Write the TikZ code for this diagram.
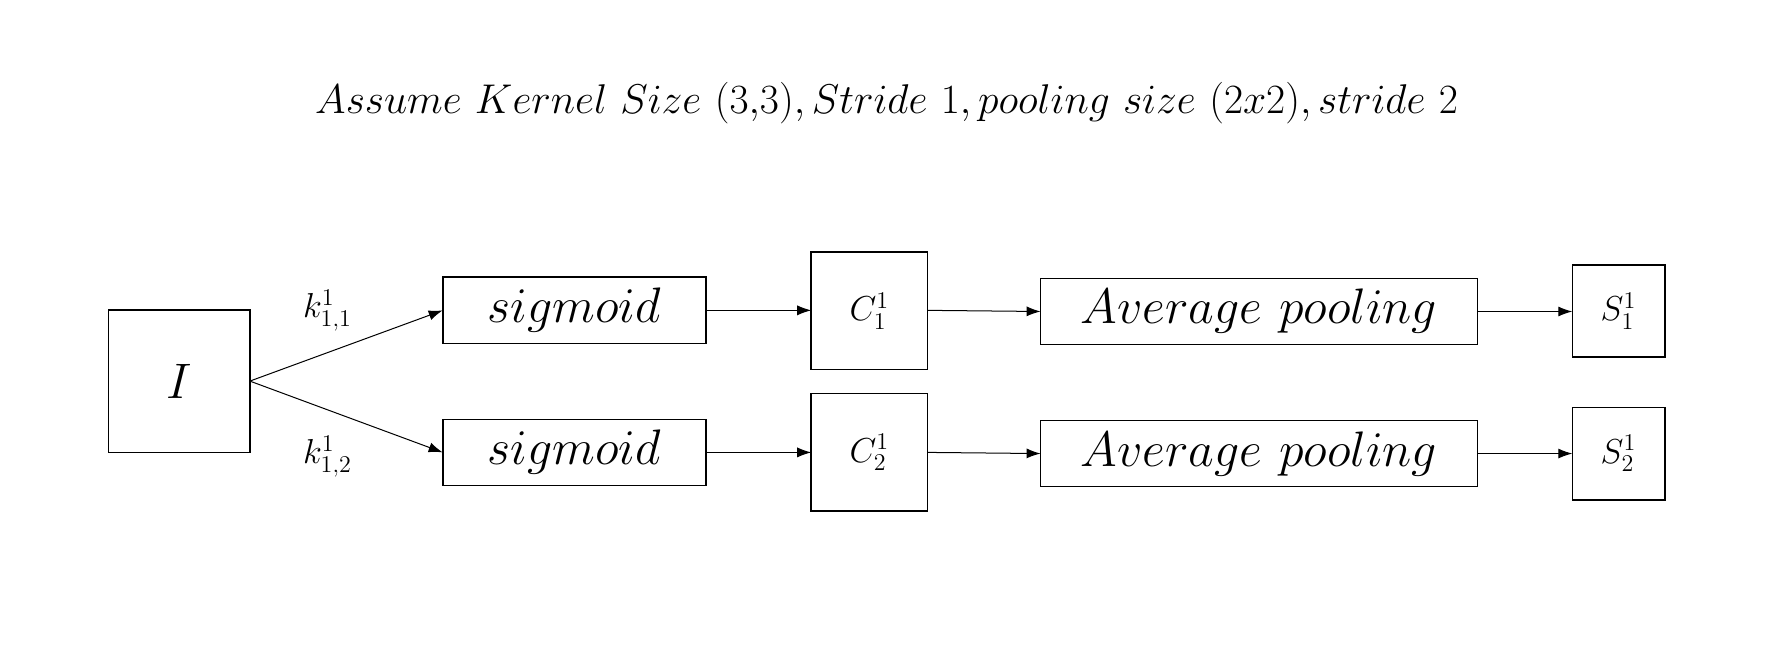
\documentclass[tikz,border=0pt]{standalone}
\usetikzlibrary{arrows.meta}
\begin{document}
\begin{tikzpicture}[x=0.02cm,y=-0.02cm,
 box/.style={draw,line width=0.8pt,inner sep=0pt,outer sep=0pt},
 arr/.style={-{Latex[length=7pt,width=5pt]},line width=0.5pt}]
\useasboundingbox (0,0) rectangle (1560,580);
\node (t) at (777,90) {\fontsize{22}{26}\selectfont $Assume\ Kernel\ Size\ (3{,}3), Stride\ 1, pooling\ size\ (2x2), stride\ 2$};
\node[box,minimum width=124*0.02cm,minimum height=125*0.02cm] (I) at (157,334) {\fontsize{30}{34}\selectfont $I$};
\foreach \n/\y in {1/272,2/396.5}{
 \node[box,minimum width=231*0.02cm,minimum height=58*0.02cm] (s\n) at (503.5,\y) {\fontsize{28}{32}\selectfont $sigmoid$};
 \node[box,minimum width=383*0.02cm,minimum height=58*0.02cm] (a\n) at (1103.5,\y+1) {\fontsize{28}{32}\selectfont $Average\ pooling$};
}
\node[box,minimum width=102*0.02cm,minimum height=103*0.02cm] (c1) at (762,272.5) {\fontsize{17}{20}\selectfont $C_1^1$};
\node[box,minimum width=102*0.02cm,minimum height=103*0.02cm] (c2) at (762,396.5) {\fontsize{17}{20}\selectfont $C_2^1$};
\node[box,minimum width=81*0.02cm,minimum height=81*0.02cm] (S1) at (1418.5,272.5) {\fontsize{17}{20}\selectfont $S_1^1$};
\node[box,minimum width=81*0.02cm,minimum height=81*0.02cm] (S2) at (1418.5,397.5) {\fontsize{17}{20}\selectfont $S_2^1$};
\node (k1) at (287,272) {\fontsize{17}{20}\selectfont $k_{1,1}^1$};
\node (k2) at (287,400) {\fontsize{17}{20}\selectfont $k_{1,2}^1$};
\draw[arr] (I.east) -- (s1.west);
\draw[arr] (I.east) -- (s2.west);
\foreach \n in {1,2}{
 \draw[arr] (s\n.east) -- (s\n.east -| c\n.west);
 \draw[arr] (c\n.east |- s\n.east) -- (a\n.west);
 \draw[arr] (a\n.east) -- (a\n.east -| S\n.west);
}
\end{tikzpicture}
\end{document}
